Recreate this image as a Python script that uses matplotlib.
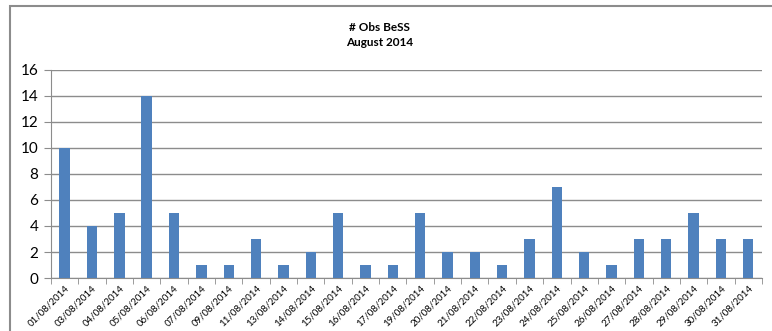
import numpy as np
import matplotlib
matplotlib.use("Agg")
import matplotlib.pyplot as plt
from matplotlib.patches import Rectangle

plt.rcParams['font.family'] = ['Lato', 'DejaVu Sans']

# observation counts per night, August 2014
dates = ["01/08/2014", "03/08/2014", "04/08/2014", "05/08/2014", "06/08/2014",
         "07/08/2014", "09/08/2014", "11/08/2014", "13/08/2014", "14/08/2014",
         "15/08/2014", "16/08/2014", "17/08/2014", "19/08/2014", "20/08/2014",
         "21/08/2014", "22/08/2014", "23/08/2014", "24/08/2014", "25/08/2014",
         "26/08/2014", "27/08/2014", "28/08/2014", "29/08/2014", "30/08/2014",
         "31/08/2014"]
counts = [10, 4, 5, 14, 5, 1, 1, 3, 1, 2, 5, 1, 1, 5, 2, 2, 1, 3, 7, 2, 1, 3, 3, 5, 3, 3]
yticks = [0, 2, 4, 6, 8, 10, 12, 14, 16]

fig = plt.figure(figsize=(7.72, 3.31), dpi=100)
ax = fig.add_axes([0.066, 0.160, 0.921, 0.629])

x = np.arange(len(dates))
ax.bar(x, counts, width=0.38, color="#4F81BD", zorder=3)

ax.set_xlim(-0.5, len(dates) - 0.5)
ax.set_ylim(0, 16)
ax.set_yticks(yticks)
ax.set_yticklabels([str(v) for v in yticks], fontsize=11)
ax.yaxis.grid(True, color="#8C8C8C", linewidth=1.0, zorder=0)

# category labels, tick marks between the bars
ax.set_xticks(x)
ax.set_xticklabels(dates, rotation=45, ha="right", rotation_mode="anchor", fontsize=7)
ax.tick_params(axis="x", length=0, pad=4)
ax.set_xticks(np.arange(-0.5, len(dates)), minor=True)
ax.tick_params(axis="x", which="minor", length=4, color="#8C8C8C")
ax.tick_params(axis="y", length=5, color="#8C8C8C", pad=4)

for side in ["top", "right"]:
    ax.spines[side].set_visible(False)
ax.spines["left"].set_color("#8C8C8C")
ax.spines["bottom"].set_color("#8C8C8C")

fig.text(0.492, 0.918, "# Obs BeSS", ha="center", va="center", fontsize=8.5, fontweight="bold")
fig.text(0.492, 0.872, "August 2014", ha="center", va="center", fontsize=8.5, fontweight="bold")

# chart frame
fig.patches.append(Rectangle((10 / 772, -0.05), 1.0, 1 - 6 / 331 + 0.05,
                             transform=fig.transFigure, fill=False,
                             edgecolor="#8C8C8C", linewidth=1.5))

fig.savefig("out.png", dpi=100)
